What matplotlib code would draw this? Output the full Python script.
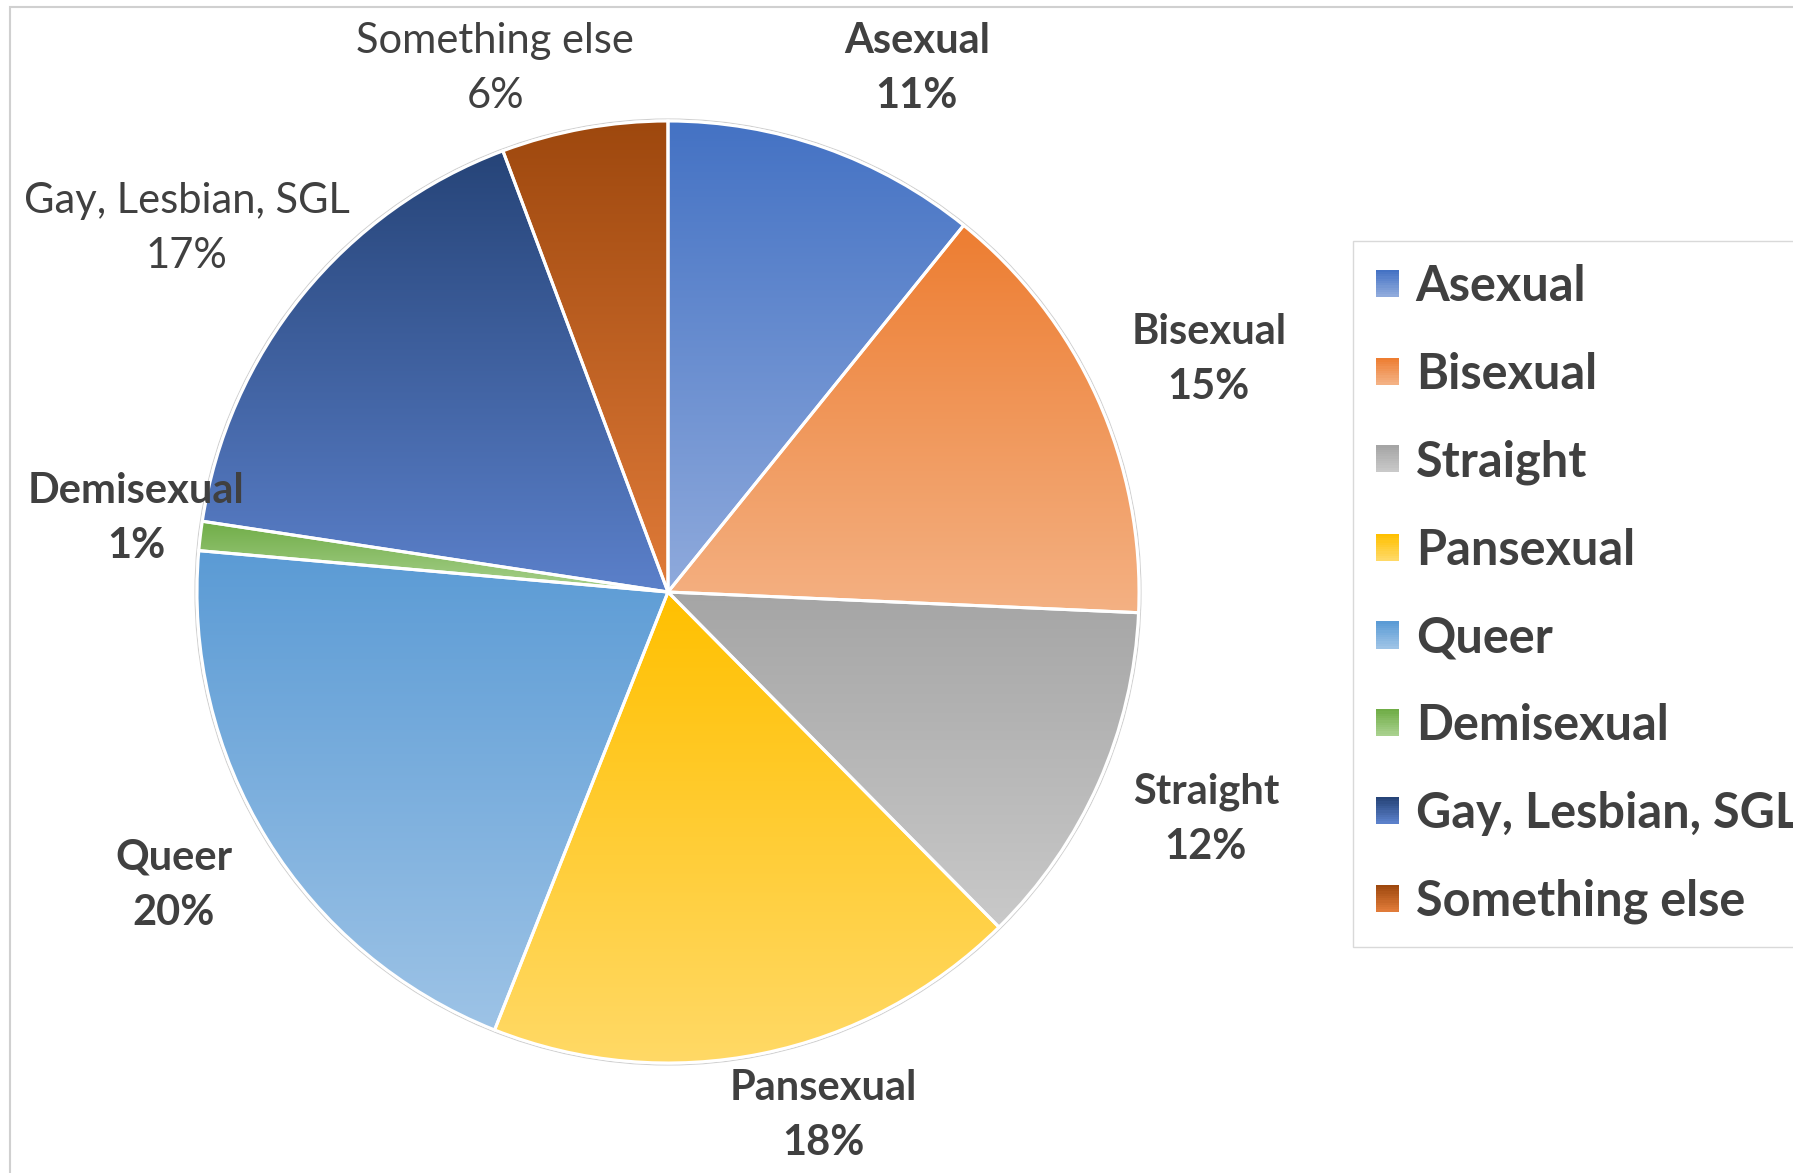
import numpy as np
import matplotlib.pyplot as plt
from matplotlib.colors import LinearSegmentedColormap, to_rgb
from matplotlib.patches import Rectangle, Circle
from matplotlib.legend_handler import HandlerBase

categories = ['Asexual', 'Bisexual', 'Straight', 'Pansexual', 'Queer',
              'Demisexual', 'Gay, Lesbian, SGL', 'Something else']
shares = [10.8, 14.9, 11.9, 18.4, 20.4, 1.0, 16.9, 5.7]
pct_labels = ['11%', '15%', '12%', '18%', '20%', '1%', '17%', '6%']

# excel style gradient, top colour -> bottom colour of every slice
top_colors = ['#4472C4', '#ED7D31', '#A5A5A5', '#FFC000', '#5B9BD5',
              '#70AD47', '#264478', '#9E480E']
bottom_colors = ['#8FAADC', '#F4B183', '#C9C9C9', '#FFD966', '#9DC3E6',
                 '#A9D18E', '#5B80CA', '#E07B39']

# where the data labels sit (radius factor, angle shift in degrees)
label_dist = [1.23, 1.25, 1.24, 1.16, 1.22, 1.14, 1.28, 1.17]
label_shift = [6, 1, -1, -5, 1, 1, -2, -8]
bold_labels = [True, True, True, True, True, True, False, False]

W, H = 1793, 1173
cx, cy, R = 668, H - 592, 471
text_col = '#404040'
font = ['Lato', 'DejaVu Sans']

fig = plt.figure(figsize=(W / 100, H / 100), dpi=100)
ax = fig.add_axes([0, 0, 1, 1])

wedges, _ = ax.pie(shares, startangle=90, counterclock=False, center=(cx, cy),
                   radius=R, wedgeprops=dict(facecolor='none', edgecolor='white',
                                             linewidth=2.2, zorder=3))

# thin grey rim around the pie
ax.add_patch(Circle((cx, cy), R + 2, fill=False, ec='#D0D0D0', lw=0.8, zorder=1))

grad = np.linspace(0, 1, 256).reshape(-1, 1)
for w, c0, c1 in zip(wedges, top_colors, bottom_colors):
    bb = w.get_path().get_extents()
    cmap = LinearSegmentedColormap.from_list('g', [c0, c1])
    im = ax.imshow(grad, cmap=cmap, extent=[bb.x0, bb.x1, bb.y0, bb.y1],
                   origin='upper', aspect='auto', zorder=2)
    im.set_clip_path(w)

# data labels
for i, w in enumerate(wedges):
    ang = np.deg2rad((w.theta1 + w.theta2) / 2 - label_shift[i])
    x = cx + label_dist[i] * R * np.cos(ang)
    y = cy + label_dist[i] * R * np.sin(ang)
    ax.text(x, y, categories[i] + '\n' + pct_labels[i], ha='center', va='center',
            fontsize=30, color=text_col, family=font, linespacing=1.55,
            fontweight='bold' if bold_labels[i] else 'normal', zorder=5)

# chart border (right/bottom run off the picture)
ax.add_patch(Rectangle((10, -20), 1850, H - 7 + 20, fill=False, ec='#D0D0D0',
                       lw=1.5, clip_on=False, zorder=0))

ax.set_xlim(0, W)
ax.set_ylim(0, H)
ax.set_aspect('auto')
ax.axis('off')


class GradientBox(HandlerBase):
    def create_artists(self, legend, orig_handle, xdescent, ydescent,
                       width, height, fontsize, trans):
        i = categories.index(orig_handle.get_label())
        c0, c1 = np.array(to_rgb(top_colors[i])), np.array(to_rgb(bottom_colors[i]))
        n = 12
        out = []
        for k in range(n):
            col = c0 + (c1 - c0) * k / (n - 1)
            y = -ydescent + height * (1 - (k + 1) / n)
            out.append(Rectangle((-xdescent, y), width, height / n + 0.3,
                                 fc=col, ec='none', transform=trans))
        return out


handles = [Rectangle((0, 0), 1, 1, label=c) for c in categories]
leg = fig.legend(handles=handles, loc='upper left',
                 bbox_to_anchor=(1353 / W, 1 - 241 / H), bbox_transform=fig.transFigure,
                 borderaxespad=0, frameon=True, fancybox=False, framealpha=1,
                 edgecolor='#D9D9D9', handler_map={Rectangle: GradientBox()},
                 prop=dict(family=font, size=35, weight='bold'),
                 handlelength=0.47, handleheight=0.47, handletextpad=0.35,
                 labelspacing=0.88, borderpad=0.47)
leg.get_frame().set_linewidth(1)
for t in leg.get_texts():
    t.set_color(text_col)

fig.savefig('out.png', dpi=100)
